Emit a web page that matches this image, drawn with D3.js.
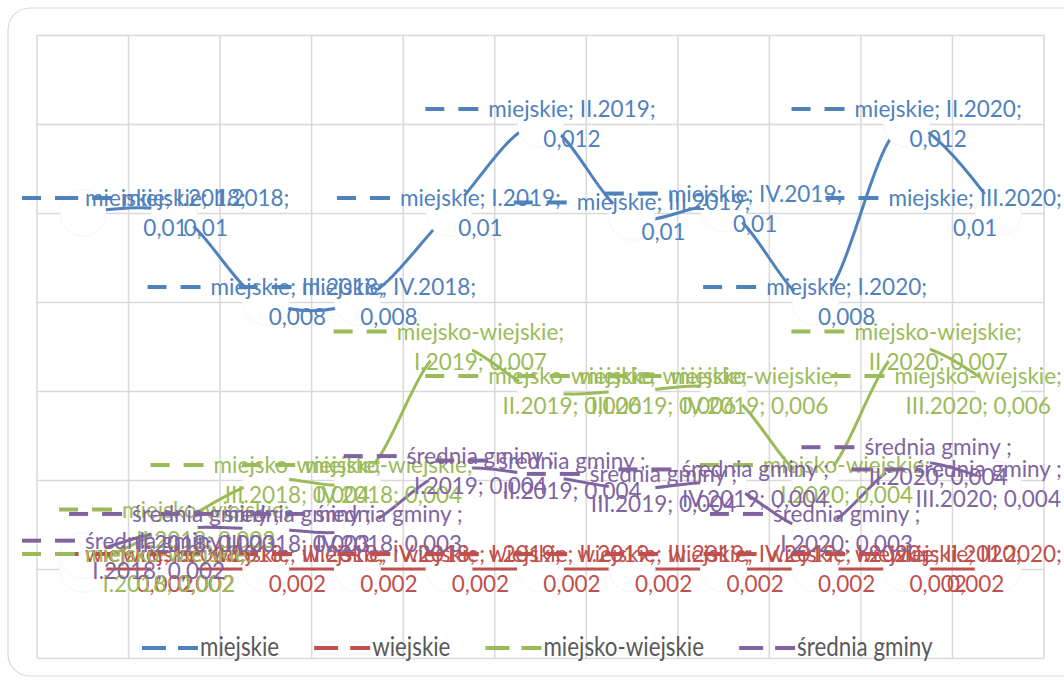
<!DOCTYPE html>
<html>
<head>
<meta charset="utf-8">
<script src="https://cdn.jsdelivr.net/npm/d3@7"></script>
<style>
  body{margin:0;background:#fff;}
  svg{display:block;}
</style>
</head>
<body>
<svg id="chart"></svg>
<script>
// data
const categories=['I.2018','II.2018','III.2018','IV.2018','I.2019','II.2019','III.2019','IV.2019','I.2020','II.2020','III.2020'];
const seriesNames=['miejskie','wiejskie','miejsko-wiejskie','średnia gminy '];
const miejskie=[0.0100,0.0100,0.0080,0.0080,0.0100,0.0120,0.0099,0.0101,0.0080,0.0120,0.0100];
const wiejskie=[0.0020,0.0020,0.0020,0.0020,0.0020,0.0020,0.0020,0.0020,0.0020,0.0020,0.0020];
const miejskoWiejskie=[0.0020,0.0030,0.0040,0.0040,0.0070,0.0060,0.0060,0.0060,0.0040,0.0070,0.0060];
const sredniaGminy=[0.0023,0.0029,0.0029,0.0029,0.0042,0.0041,0.0038,0.0039,0.0029,0.0044,0.0039];
const colors=['#4f81bd','#c0504d','#9bbb59','#8064a2'];
const yTicks=[0,0.002,0.004,0.006,0.008,0.010,0.012,0.014];

let width=1064;
let height=682;
let plot={left:37,right:1044,top:35,bottom:658};
const svg=d3.select('#chart').attr('width',width).attr('height',height);

const allSeries=[miejskie,wiejskie,miejskoWiejskie,sredniaGminy];

let xScale=d3.scaleBand().domain(categories).range([plot.left,plot.right]);
let yScale=d3.scaleLinear().domain([0,0.014]).range([plot.bottom,plot.top]);
let px=(c)=>xScale(c)+xScale.bandwidth()/2;

let fmt=(v)=>d3.format('.3~f')(v).replace('.',',');

// chart area frame
svg.append('rect')
  .attr('x',8).attr('y',8).attr('width',1090).attr('height',668)
  .attr('rx',22).attr('fill','#fff').attr('stroke','#d9d9d9').attr('stroke-width',1.2);

// gridlines
let yAxis=d3.axisLeft(yScale).tickValues(yTicks).tickSize(-(plot.right-plot.left)).tickFormat('');
svg.append('g').attr('transform','translate('+plot.left+',0)').call(yAxis)
  .call(g=>g.select('.domain').remove())
  .call(g=>g.selectAll('line').attr('stroke','#d9d9d9').attr('stroke-width',1.5));

let vLines=categories.map(c=>xScale(c)).concat([plot.right]);
svg.append('g').selectAll('line').data(vLines).enter().append('line')
  .attr('x1',d=>d).attr('x2',d=>d).attr('y1',plot.top).attr('y2',plot.bottom)
  .attr('stroke','#d9d9d9').attr('stroke-width',1.5);

// lines and white markers, series by series
let line=d3.line().x((d,i)=>px(categories[i])).y(d=>yScale(d)).curve(d3.curveCatmullRom.alpha(0.5));
allSeries.forEach((arr,s)=>{
  svg.append('path').datum(arr).attr('d',line)
    .attr('fill','none').attr('stroke',colors[s]).attr('stroke-width',3);
  svg.append('g').selectAll('circle').data(arr).enter().append('circle')
    .attr('cx',(d,i)=>px(categories[i])).attr('cy',d=>yScale(d)).attr('r',23)
    .attr('fill','#fff').attr('stroke','#f6f6f6').attr('stroke-width',1);
});

// data labels: legend key + "series; category; value", centred on the point
const keyW=63;
const lbl=svg.append('g').attr('font-family','Lato, Carlito, sans-serif').attr('font-size',22.5);
allSeries.forEach((arr,s)=>{
  let name=seriesNames[s];
  arr.forEach((v,i)=>{
    let cat=categories[i];
    let lines=name.length>10 ? [name+';',cat+'; '+fmt(v)] : [name+'; '+cat+';',fmt(v)];
    let g=lbl.append('g');
    let t=g.selectAll('text').data(lines).enter().append('text')
      .attr('fill',colors[s]).attr('text-anchor','middle').text(d=>d);
    let tw=d3.max(t.nodes(),n=>n.getComputedTextLength());
    let boxW=keyW+tw;
    let left=px(cat)-boxW/2;
    left=Math.max(22,Math.min(1062-boxW,left));
    let cy=yScale(v);
    t.attr('x',left+keyW+tw/2).attr('y',(d,k)=>cy-15+k*30+8);
    g.append('line').attr('x1',left).attr('x2',left+19).attr('y1',cy-15).attr('y2',cy-15)
      .attr('stroke',colors[s]).attr('stroke-width',4);
    g.append('line').attr('x1',left+33).attr('x2',left+53).attr('y1',cy-15).attr('y2',cy-15)
      .attr('stroke',colors[s]).attr('stroke-width',4);
  });
});

// legend
let legend=svg.append('g').attr('font-family','Lato, Carlito, sans-serif').attr('font-size',26);
let lx=142;
seriesNames.forEach((name,s)=>{
  let g=legend.append('g').attr('transform','translate('+lx+',648)');
  g.append('line').attr('x1',0).attr('x2',24).attr('stroke',colors[s]).attr('stroke-width',4);
  g.append('line').attr('x1',36).attr('x2',56).attr('stroke',colors[s]).attr('stroke-width',4);
  let t=g.append('text').attr('x',0).attr('y',8).attr('fill','#595959').text(name.trim());
  let w=t.node().getComputedTextLength()*0.86;
  t.attr('transform','translate(58,0) scale(0.86,1)');
  lx+=58+w+35;
});
</script>
</body>
</html>
